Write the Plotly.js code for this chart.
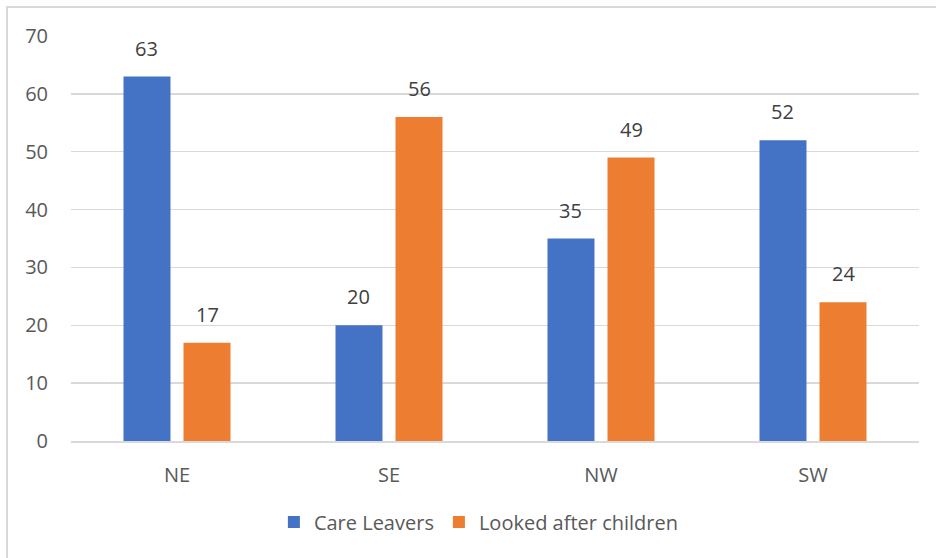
<!DOCTYPE html>
<html><head><meta charset="utf-8">
<script src="https://cdn.plot.ly/plotly-3.0.1.min.js"></script>
<style>body{margin:0;background:#fff}#c{width:936px;height:558px}</style>
</head><body><div id="c"></div>
<script>
const categories = ["NE", "SE", "NW", "SW"];
const careLeavers = [63, 20, 35, 52];
const lookedAfter = [17, 56, 49, 24];
const seriesNames = ["Care Leavers", "Looked after children"];
const yTicks = [0, 10, 20, 30, 40, 50, 60, 70];

const FONT = "Open Sans, sans-serif";
const traces = [
  {type: "bar", name: seriesNames[0], x: categories, y: careLeavers, marker: {color: "#4472C4"}, hoverinfo: "none"},
  {type: "bar", name: seriesNames[1], x: categories, y: lookedAfter, marker: {color: "#ED7D31"}, hoverinfo: "none"}
];
const annotations = [];
[careLeavers, lookedAfter].forEach((arr, si) => {
  arr.forEach((v, i) => annotations.push({
    x: categories[i], y: v, xref: "x", yref: "y", text: String(v), showarrow: false,
    xshift: si === 0 ? -30.5 : 30.5, yanchor: "bottom", yshift: 13,
    font: {family: FONT, size: 20, color: "#404040"}
  }));
});
const layout = {
  width: 936, height: 558,
  margin: {l: 71, r: 17, t: 36, b: 117},
  paper_bgcolor: "#fff", plot_bgcolor: "#fff",
  barmode: "group", bargap: 0.434, bargroupgap: 0.217,
  xaxis: {tickfont: {family: FONT, size: 20, color: "#595959"}, showline: true, linecolor: "#d9d9d9", linewidth: 1.5, ticks: "", ticklabelstandoff: 15, fixedrange: true},
  yaxis: {range: [0, 70], tickvals: yTicks, tickfont: {family: FONT, size: 20, color: "#595959"}, gridcolor: "#d9d9d9", gridwidth: 1.5, zeroline: false, showline: false, ticks: "", ticklabelstandoff: 22, fixedrange: true},
  showlegend: true,
  legend: {orientation: "h", x: 0.481, xanchor: "center", y: -0.2, yanchor: "middle", font: {family: FONT, size: 20, color: "#595959"}, itemwidth: 30, traceorder: "normal"},
  annotations: annotations,
  shapes: [{type: "rect", xref: "paper", yref: "paper", x0: -64/848, x1: 1.2, y0: -0.6, y1: 1 + 29/405, line: {color: "#d9d9d9", width: 2}, fillcolor: "rgba(0,0,0,0)", layer: "below"}]
};
Plotly.newPlot("c", traces, layout, {displayModeBar: false, staticPlot: true});
</script></body></html>
